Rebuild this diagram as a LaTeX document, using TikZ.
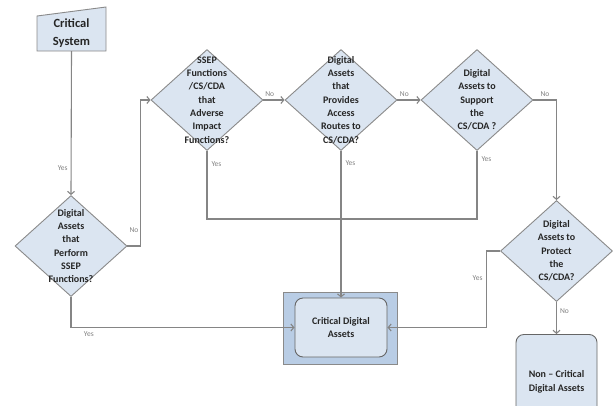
\documentclass[tikz,border=0pt]{standalone}
\usepackage{fontspec}
\setmainfont{Carlito}
\usetikzlibrary{shapes.geometric,arrows.meta}
\definecolor{boxfill}{HTML}{DBE5F1}
\definecolor{outerfill}{HTML}{B9CDE5}
\definecolor{linegray}{HTML}{858585}
\definecolor{edgegray}{HTML}{8A8A8A}
\begin{document}
\begin{tikzpicture}[x=1pt, y=-1pt,
    decision/.style={diamond, draw=edgegray, fill=boxfill, line width=0.9pt, minimum width=112pt, minimum height=101pt, inner sep=0pt},
    dtext/.style={align=center, font=\bfseries\fontsize{10}{13.3}\selectfont, text=black!85},
    flow/.style={draw=linegray, line width=1.1pt, -{Straight Barb[length=3pt,width=7pt]}},
    link/.style={draw=linegray, line width=1.1pt},
    answer/.style={font=\fontsize{7.5}{9}\selectfont, text=gray, inner sep=1pt}]
    \useasboundingbox (0,0) rectangle (613,405);

    % --- Critical system (manual input) ---
    \draw[draw=edgegray, fill=boxfill, line width=0.9pt] (37,16) -- (106,7) -- (106,51) -- (37,51) -- cycle;
    \node[align=center, font=\bfseries\fontsize{12.5}{17.5}\selectfont, text=black!85] (sys) at (71.5,33) {Critical\\System};
    \coordinate (sysbot) at (71.5,51);
    % ---

    % --- Decisions ---
    \node[decision] (perform) at (71,246) {};
    \node[dtext] at (perform) {Digital\\Assets\\that\\Perform\\SSEP\\Functions?};
    \node[decision] (adverse) at (207,100) {};
    \node[dtext] at (adverse) {SSEP\\Functions\\/CS/CDA\\that\\Adverse\\Impact\\Functions?};
    \node[decision] (access) at (341,100) {};
    \node[dtext] at (access) {Digital\\Assets\\that\\Provides\\Access\\Routes to\\CS/CDA?};
    \node[decision] (support) at (477,100) {};
    \node[dtext] at (support) {Digital\\Assets to\\Support\\the\\CS/CDA ?};
    \node[decision] (protect) at (556.5,251) {};
    \node[dtext] at (protect) {Digital\\Assets to\\Protect\\the\\CS/CDA?};
    % ---

    % --- Outcomes ---
    \draw[draw=edgegray, fill=outerfill, line width=0.9pt] (283,292) rectangle (397,364);
    \node[draw=black!60, fill=boxfill, rounded corners=8pt, line width=0.9pt, minimum width=92pt, minimum height=59pt, align=center, font=\bfseries\fontsize{10}{13.3}\selectfont, text=black!85] (critical) at (341,327.5) {Critical Digital\\Assets};
    \node[draw=black!60, fill=boxfill, rounded corners=8pt, line width=0.9pt, minimum width=81pt, minimum height=80pt, anchor=north, inner sep=0pt] (noncrit) at (556.5,334) {};
    \node[align=center, font=\bfseries\fontsize{10}{14}\selectfont, text=black!85] at (556.5,381.5) {Non -- Critical\\Digital Assets};
    % ---

    % --- Connectors ---
    \draw[flow] (sysbot) -- (perform.north) node[answer, pos=0.81, left=2pt] {Yes};
    \draw[flow] (perform.east) -- ++(13,0) node[answer, pos=0.5, above=12pt] {No} |- (adverse.west);
    \draw[flow] (adverse.east) -- (access.west) node[answer, pos=0.3, above=2pt] {No};
    \draw[flow] (access.east) -- (support.west) node[answer, pos=0.3, above=2pt] {No};
    \draw[flow] (support.east) -| (protect.north) node[answer, pos=0.25, above=2pt] {No};
    \draw[flow] (protect.south) -- (noncrit.north) node[answer, pos=0.3, right=2pt] {No};
    \draw[flow] (protect.west) -- ++(-14,0) |- (critical.east) node[answer, pos=0.18, left=2pt] {Yes};
    \draw[flow] (perform.south) |- (critical.west) node[answer, pos=0.54, below=3pt] {Yes};
    \draw[flow] (access.south) -- (critical.north) node[answer, pos=0.08, right=3pt] {Yes};
    \draw[link] (adverse.south) -- (207,219) node[answer, pos=0.2, right=3pt] {Yes} -- (477,219) -- (support.south) node[answer, pos=0.88, right=3pt] {Yes};
    % ---
\end{tikzpicture}
\end{document}
